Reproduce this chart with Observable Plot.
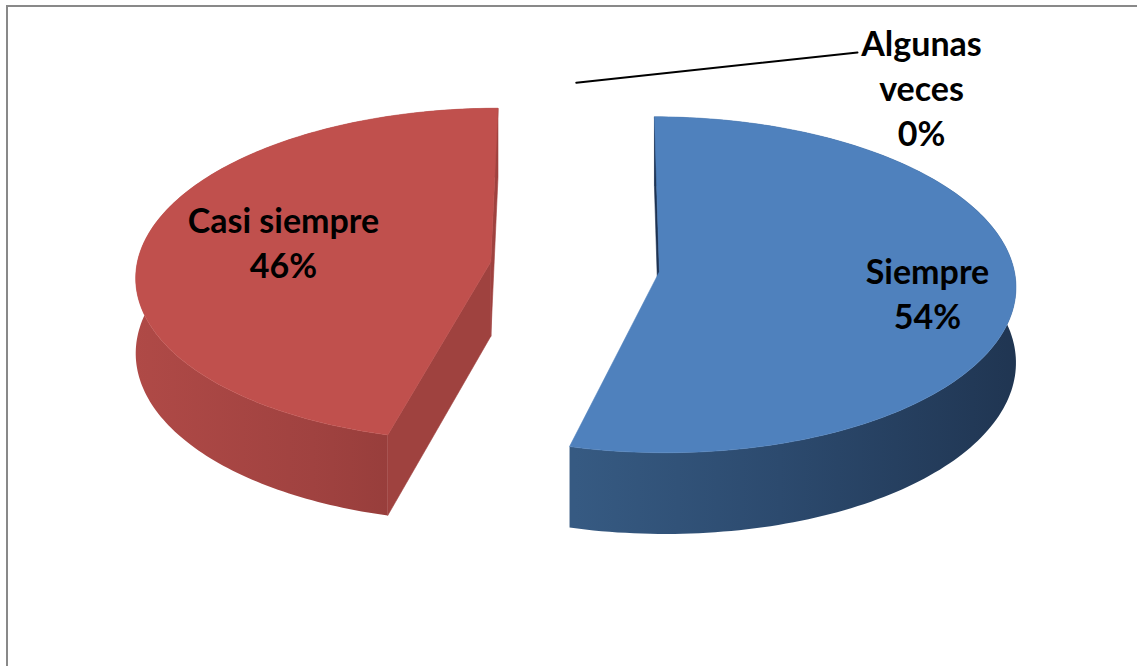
<!DOCTYPE html>
<html><head><meta charset="utf-8">
<script src="https://cdn.jsdelivr.net/npm/d3@7"></script>
<script src="https://cdn.jsdelivr.net/npm/@observablehq/plot@0.6"></script>
<style>
html,body{margin:0;padding:0;background:#fff;overflow:hidden;}
#chart{position:relative;width:1137px;height:666px;}
#chart svg{display:block;}
#frame{position:absolute;left:6px;top:5px;width:1200px;height:700px;border-left:2.5px solid #898989;border-top:2.5px solid #898989;pointer-events:none;}
</style>
</head><body><div id="chart"><div id="frame"></div></div>
<script>
// ---- data ----
const categories = ["Siempre", "Casi siempre", "Algunas veces"];
const values = [54, 46, 0];
const valueLabels = ["54%", "46%", "0%"];

// ---- styling / layout ----
const W = 1137, H = 666;
const VIEW = {vx: 590, vy: -1873, f: 4560, a: 27542, u0: 12.875, x0: -0.044, explode: 0.24, depth: 0.211};
const topFill = ["#4F81BD", "#C0504D", "#9BBB59"];
const sideFill = ["url(#sideBlue)", "url(#sideRed)", "#76923C"];
const cutFill = ["#1E3352", "#9F423F", "#76923C"];
const labelPos = [
  {x: 927, y: 292, wrap: false},
  {x: 283, y: 241, wrap: false},
  {x: 921, y: 86, wrap: true, leaderTo: [857, 52]}
];

function project(X, Z, h) {
  const w = VIEW.u0 - Z;
  return [VIEW.vx + VIEW.f * X / w, VIEW.vy + (VIEW.a + VIEW.f * h) / w];
}

const rows = categories.map((c, i) => ({category: c, value: values[i], label: valueLabels[i], i}));
const arcs = d3.pie().sort(null).value(d => d.value)(rows);

const polys = [];
const N = 160;
const camX = 0, camZ = VIEW.u0;
arcs.forEach(a => {
  const i = a.data.i;
  const s = a.startAngle, e = a.endAngle, mid = (s + e) / 2;
  const ax = VIEW.x0 + VIEW.explode * Math.sin(mid);
  const az = -VIEW.explode * Math.cos(mid);
  a.apex = [ax, az];
  if (e - s <= 1e-9) return;
  const T = VIEW.depth;
  const rim = (t, h) => project(ax + Math.sin(t), az - Math.cos(t), h);
  const ang = d3.range(N + 1).map(k => s + (e - s) * k / N);
  // outer band
  const band = ang.map(t => rim(t, 0)).concat(ang.slice().reverse().map(t => rim(t, T)));
  polys.push({fill: sideFill[i], pts: band, order: 0});
  // cut faces
  const vis = (t, sign) => {
    const nx = sign * Math.cos(t), nz = sign * Math.sin(t);
    return nx * (camX - ax) + nz * (camZ - az) > 0;
  };
  [[s, -1], [e, 1]].forEach(([t, sign]) => {
    if (vis(t, sign)) {
      polys.push({fill: cutFill[i], order: 1, pts: [project(ax, az, 0), rim(t, 0), rim(t, T), project(ax, az, T)]});
    }
  });
  // top face
  polys.push({fill: topFill[i], order: 2, pts: [project(ax, az, 0)].concat(ang.map(t => rim(t, 0)))});
});
polys.sort((p, q) => p.order - q.order);

const marks = [];
polys.forEach(p => {
  marks.push(Plot.line(p.pts.concat([p.pts[0]]), {x: d => d[0], y: d => d[1], fill: p.fill, stroke: p.fill.startsWith("url") ? "none" : p.fill, strokeWidth: 0.6, curve: "linear"}));
});

// labels
const textData = arcs.map(a => {
  const i = a.data.i, L = labelPos[i];
  const name = L.wrap ? a.data.category.replace(" ", "\n") : a.data.category;
  return {x: L.x, y: L.y, text: name + "\n" + a.data.label};
});
arcs.forEach(a => {
  const L = labelPos[a.data.i];
  if (L.leaderTo) {
    const [ax, az] = a.apex;
    const p = project(ax + Math.sin(a.startAngle), az - Math.cos(a.startAngle), 0);
    marks.push(Plot.line([[p[0], p[1] + 4], L.leaderTo], {x: d => d[0], y: d => d[1], stroke: "#000", strokeWidth: 2}));
  }
});
marks.push(Plot.text(textData, {x: "x", y: "y", text: "text", fontSize: 34, fontWeight: "bold", fontFamily: "Lato, 'Open Sans', sans-serif", lineHeight: 1.32, textAnchor: "middle", fill: "#000"}));

const svg = Plot.plot({
  width: W, height: H,
  margin: 0,
  x: {domain: [0, W], range: [0, W], axis: null},
  y: {domain: [0, H], range: [0, H], axis: null},
  style: {background: "transparent"},
  marks
});
const defs = document.createElementNS("http://www.w3.org/2000/svg", "defs");
defs.innerHTML = `
<linearGradient id="sideBlue" gradientUnits="userSpaceOnUse" x1="575" y1="0" x2="1030" y2="0">
  <stop offset="0" stop-color="#365A82"/><stop offset="0.45" stop-color="#2C4A6E"/><stop offset="1" stop-color="#1F3450"/>
</linearGradient>
<linearGradient id="sideRed" gradientUnits="userSpaceOnUse" x1="125" y1="0" x2="500" y2="0">
  <stop offset="0" stop-color="#B04A47"/><stop offset="0.5" stop-color="#A04240"/><stop offset="1" stop-color="#8C3835"/>
</linearGradient>`;
svg.insertBefore(defs, svg.firstChild);
document.getElementById("chart").appendChild(svg);
</script>
</body></html>
